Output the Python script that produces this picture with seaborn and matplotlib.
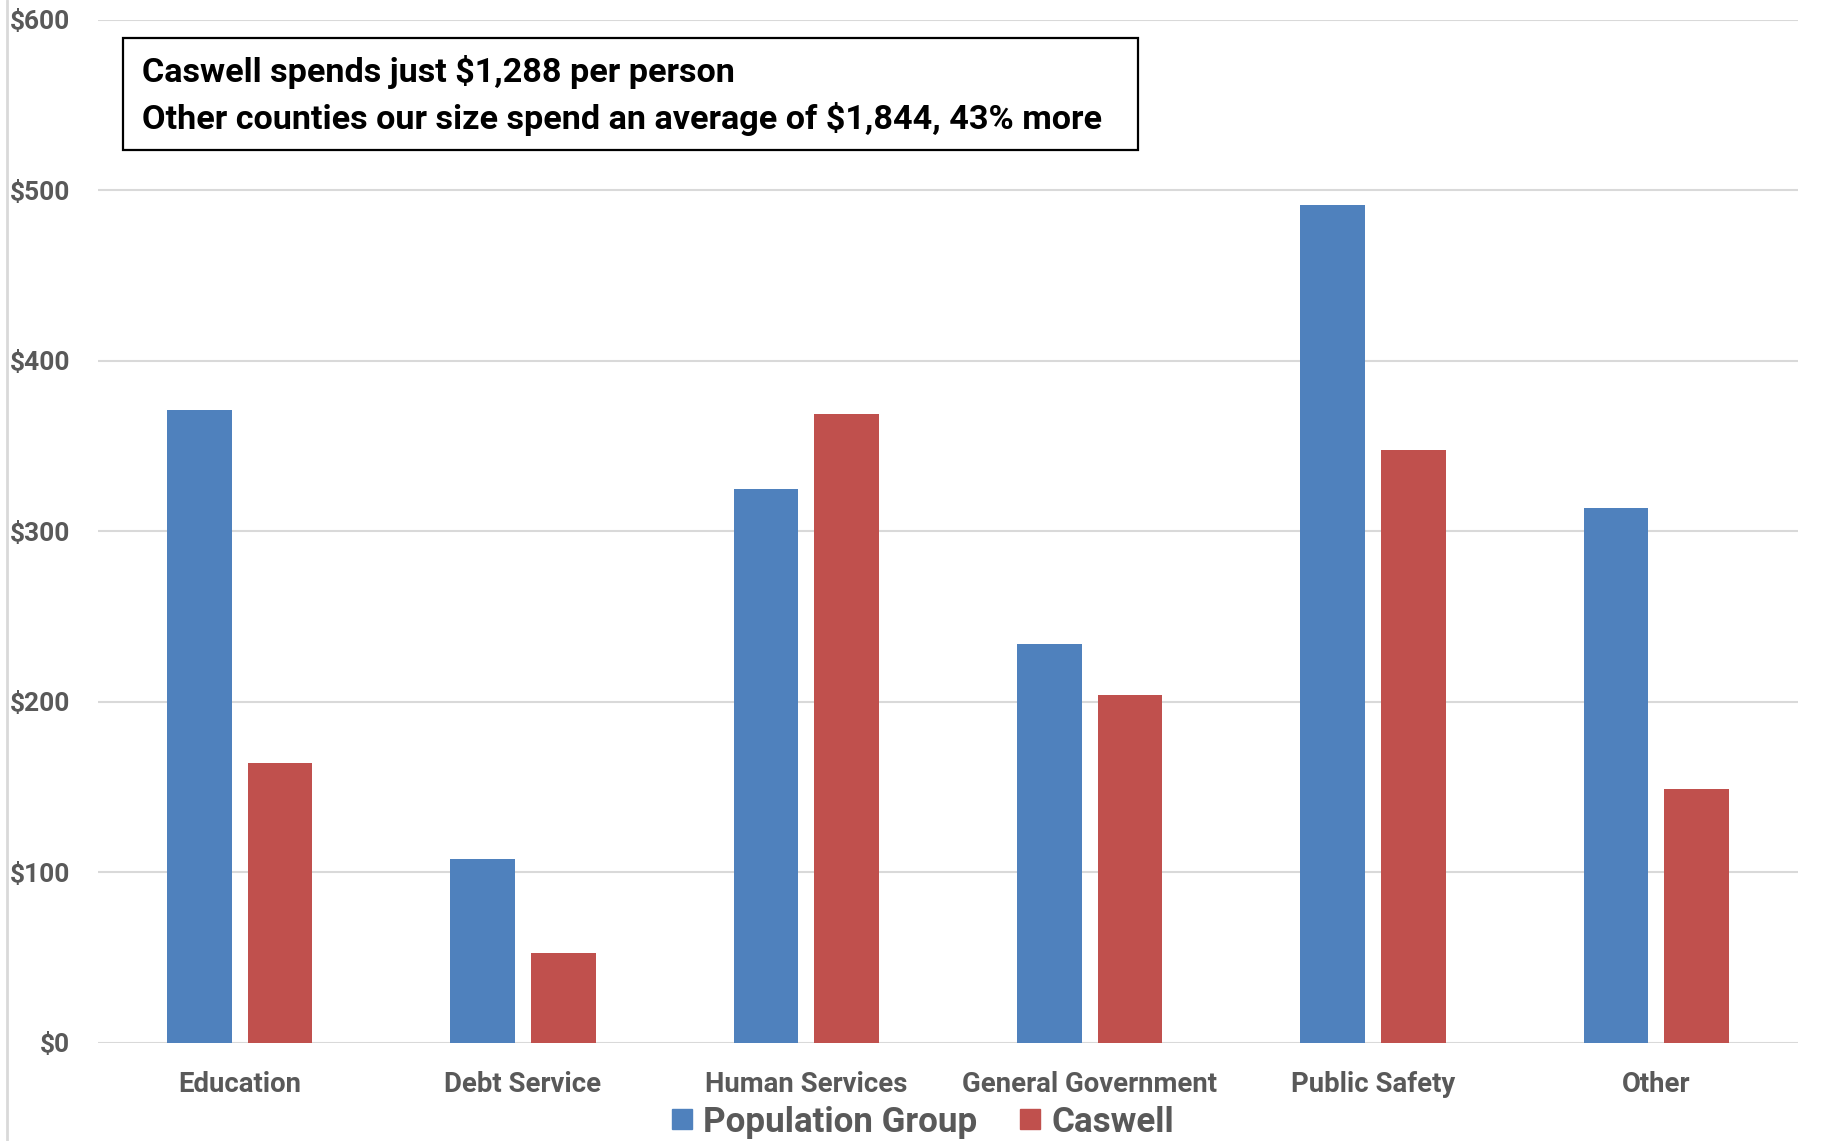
import matplotlib
matplotlib.use("Agg")
import matplotlib.pyplot as plt
from matplotlib.lines import Line2D
from matplotlib.patches import Rectangle
import seaborn as sns
import pandas as pd

# Per-capita spending by function
categories = ["Education", "Debt Service", "Human Services",
              "General Government", "Public Safety", "Other"]
population_group = [371, 108, 325, 234, 491.5, 314]
caswell = [164, 53, 369, 204, 348, 149]
series_names = ["Population Group", "Caswell"]
y_ticks = [0, 100, 200, 300, 400, 500, 600]
note_lines = ["Caswell spends just $1,288 per person",
              "Other counties our size spend an average of $1,844, 43% more"]

BLUE = "#4F81BD"
RED = "#C0504D"
GRAY_TEXT = "#595959"
GRID = "#D9D9D9"

sns.set_theme(style="white")
plt.rcParams["font.family"] = ["Roboto", "DejaVu Sans"]

df = pd.DataFrame({
    "category": categories * 2,
    "value": population_group + caswell,
    "series": [series_names[0]] * len(categories) + [series_names[1]] * len(categories),
})

fig = plt.figure(figsize=(18.24, 11.41), dpi=100)
ax = fig.add_axes([0.0537, 0.0859, 0.932, 0.8966])

sns.barplot(data=df, x="category", y="value", hue="series",
            palette=[BLUE, RED], saturation=1, width=0.57, gap=0.2,
            linewidth=0, ax=ax, legend=False, zorder=3)

ax.set_ylim(0, 600)
ax.set_xlim(-0.5, len(categories) - 0.5)
ax.set_yticks(y_ticks)
ax.set_yticklabels([f"${v}" for v in y_ticks])
ax.set_xlabel("")
ax.set_ylabel("")
ax.grid(axis="y", color=GRID, linewidth=1.5, zorder=0)
ax.grid(axis="x", visible=False)
for side in ["top", "right", "left", "bottom"]:
    ax.spines[side].set_visible(False)
ax.tick_params(axis="y", length=0, pad=20, labelsize=19, labelcolor=GRAY_TEXT)
ax.tick_params(axis="x", length=0, pad=20, labelsize=19.8, labelcolor=GRAY_TEXT)
for lab in ax.get_xticklabels() + ax.get_yticklabels():
    lab.set_fontweight("bold")

# Summary note box
fig.add_artist(Rectangle((123 / 1824, 1 - 150 / 1141), 1015 / 1824, 112 / 1141,
                         transform=fig.transFigure, facecolor="white",
                         edgecolor="black", linewidth=1.6, zorder=5))
for text, yc in zip(note_lines, [72, 119]):
    fig.text(142 / 1824, 1 - yc / 1141, text, ha="left", va="center",
             fontsize=24.6, fontweight="bold", color="black", zorder=6)

# Chart border on the left
fig.add_artist(Line2D([7 / 1824, 7 / 1824], [0, 1], transform=fig.transFigure,
                      color=GRID, linewidth=2))

handles = [Line2D([0], [0], marker="s", linestyle="none", markersize=15,
                  markerfacecolor=c, markeredgecolor=c) for c in (BLUE, RED)]
leg = fig.legend(handles, series_names, loc="center", bbox_to_anchor=(0.505, 0.0165),
                 ncol=2, frameon=False, fontsize=25.2, handletextpad=0.2,
                 columnspacing=1.1, handlelength=0.8)
for t in leg.get_texts():
    t.set_color(GRAY_TEXT)
    t.set_fontweight("bold")

fig.savefig("out.png", dpi=100, facecolor="white")
